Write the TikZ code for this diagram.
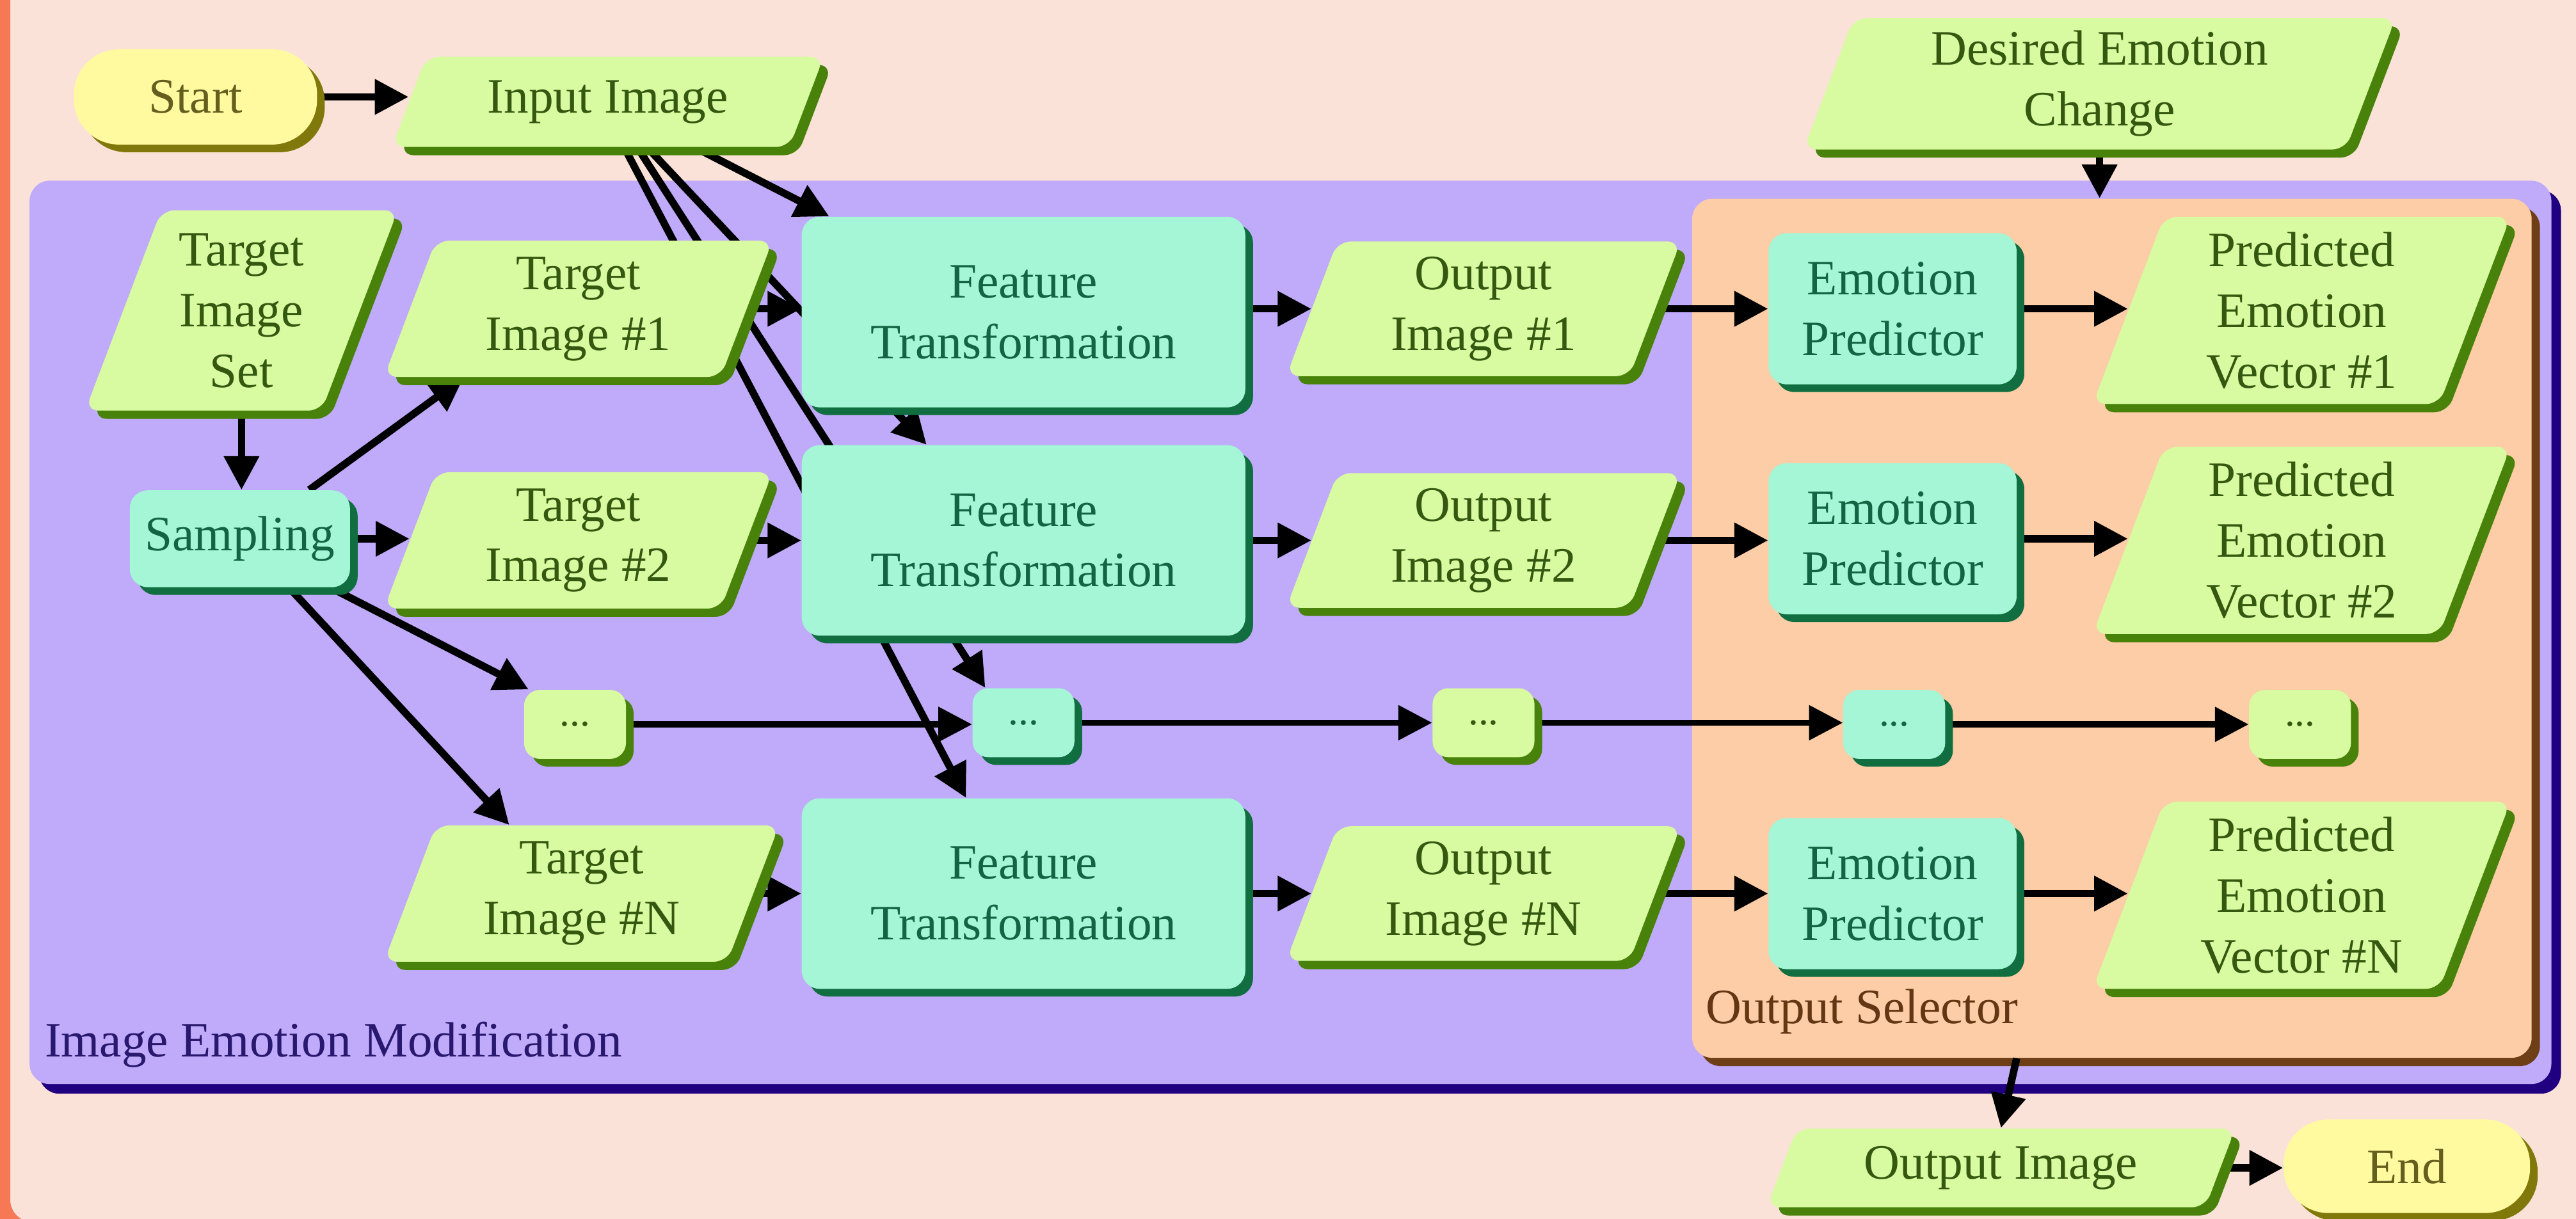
\documentclass[tikz,border=0pt]{standalone}
\usepackage{fontspec}
\setmainfont{Liberation Serif}
\usetikzlibrary{arrows.meta,shadows,calc}
\pgfdeclarelayer{bg}
\pgfdeclarelayer{edges}
\pgfsetlayers{bg,edges,main}
\definecolor{bgc}{RGB}{251,226,216}
\definecolor{frameor}{RGB}{246,120,84}
\definecolor{purp}{RGB}{192,170,250}
\definecolor{navy}{RGB}{32,0,128}
\definecolor{orng}{RGB}{252,205,166}
\definecolor{brwn}{RGB}{110,62,22}
\definecolor{gfill}{RGB}{216,250,160}
\definecolor{gshad}{RGB}{72,130,10}
\definecolor{gtxt}{RGB}{52,88,16}
\definecolor{cfill}{RGB}{164,246,214}
\definecolor{cshad}{RGB}{16,110,64}
\definecolor{ctxt}{RGB}{18,100,66}
\definecolor{yfill}{RGB}{255,250,160}
\definecolor{yshad}{RGB}{128,120,10}
\definecolor{ytxt}{RGB}{100,95,30}
\definecolor{iemtxt}{RGB}{40,25,110}
\definecolor{seltxt}{RGB}{100,55,20}
\newcommand\U{0.02567cm}
\newcommand\pnode[6]{%
  \pgfmathsetmacro\pHx{#4/2}%
  \pgfmathsetmacro\pHy{#5/2}%
  \pgfmathsetmacro\pSl{0.38*#5/2}%
  \fill[gshad, rounded corners=6pt] ({#2-\pHx-\pSl+5},{#3+\pHy+5}) -- ({#2-\pHx+\pSl+5},{#3-\pHy+5}) -- ({#2+\pHx+\pSl+5},{#3-\pHy+5}) -- ({#2+\pHx-\pSl+5},{#3+\pHy+5}) -- cycle;
  \fill[gfill, rounded corners=6pt] ({#2-\pHx-\pSl},{#3+\pHy}) -- ({#2-\pHx+\pSl},{#3-\pHy}) -- ({#2+\pHx+\pSl},{#3-\pHy}) -- ({#2+\pHx-\pSl},{#3+\pHy}) -- cycle;
  \node[gtext, minimum width=#4*\U, minimum height=#5*\U] (#1) at (#2,#3) {#6};
}
\tikzset{
  every node/.style={font=\fontsize{22}{27}\selectfont},
  gtext/.style={text=gtxt, align=center, inner sep=0pt},
  cbox/.style={fill=cfill, rounded corners=8pt, text=ctxt, align=center, inner sep=0pt,
    drop shadow={shadow xshift=0.12cm, shadow yshift=-0.12cm, fill=cshad, opacity=1}},
  gbox/.style={fill=gfill, rounded corners=7pt, text=gtxt, align=center, inner sep=0pt,
    font=\fontsize{18}{22}\selectfont,
    drop shadow={shadow xshift=0.12cm, shadow yshift=-0.12cm, fill=gshad, opacity=1}},
  dbox/.style={cbox, rounded corners=7pt, font=\fontsize{18}{22}\selectfont},
  ybox/.style={fill=yfill, rounded corners=20pt, text=ytxt, align=center, inner sep=0pt,
    drop shadow={shadow xshift=0.12cm, shadow yshift=-0.12cm, fill=yshad, opacity=1}},
  arr/.style={line width=3.3pt, -{Triangle[length=15pt,width=15pt]}},
  arrthin/.style={line width=2.7pt, -{Triangle[length=15pt,width=15pt]}},
}
\begin{document}
\begin{tikzpicture}[x=0.02567cm,y=-0.02567cm]
\useasboundingbox (0,0) rectangle (1568,742);
\begin{pgfonlayer}{bg}
  \fill[bgc] (0,0) rectangle (1568,742);
  \draw[frameor, line width=0.32cm, rounded corners=0.5cm] (0,-60) rectangle (1700,750);
  \node[fill=purp, rounded corners=9pt, minimum width=1535*\U, minimum height=550*\U,
    drop shadow={shadow xshift=0.15cm, shadow yshift=-0.15cm, fill=navy, opacity=1}] (iem) at (785.5,385) {};
  \node[anchor=west, text=iemtxt, inner sep=0pt] (iemlbl) at (27,636) {Image Emotion Modification};
  \node[fill=orng, rounded corners=9pt, minimum width=511*\U, minimum height=523*\U,
    drop shadow={shadow xshift=0.13cm, shadow yshift=-0.13cm, fill=brwn, opacity=1}] (sel) at (1285.5,382.5) {};
  \node[anchor=west, text=seltxt, inner sep=0pt] (sellbl) at (1038,616) {Output Selector};
\end{pgfonlayer}

% top row
\node[ybox, minimum width=148*\U, minimum height=58*\U] (start) at (119,59) {Start};
\pnode{inimg}{370}{62}{242}{55}{Input Image}
\pnode{des}{1278}{51}{330}{80}{Desired Emotion\\Change}

% left column
\pnode{tset}{147}{189}{144}{122}{Target\\Image\\Set}
\node[cbox, minimum width=134*\U, minimum height=59*\U] (samp) at (146,328) {Sampling};

% target images
\pnode{t1}{352}{188}{205}{83}{Target\\Image \#1}
\pnode{t2}{352}{329}{205}{83}{Target\\Image \#2}
\node[gbox, minimum width=62*\U, minimum height=42*\U] (d1) at (350,441) {...};
\pnode{tn}{354}{544}{209}{83}{Target\\Image \#N}

% feature transformation
\node[cbox, minimum width=270*\U, minimum height=116*\U] (ft1) at (623,190) {Feature\\Transformation};
\node[cbox, minimum width=270*\U, minimum height=116*\U] (ft2) at (623,329) {Feature\\Transformation};
\node[dbox, minimum width=62*\U, minimum height=42*\U] (d2) at (623,440) {...};
\node[cbox, minimum width=270*\U, minimum height=116*\U] (ftn) at (623,544) {Feature\\Transformation};

% output images
\pnode{o1}{903}{188}{209}{82}{Output\\Image \#1}
\pnode{o2}{903}{329}{209}{82}{Output\\Image \#2}
\node[gbox, minimum width=62*\U, minimum height=42*\U] (d3) at (903,440) {...};
\pnode{on}{903}{544}{209}{82}{Output\\Image \#N}

% emotion predictors
\node[cbox, minimum width=151*\U, minimum height=92*\U] (ep1) at (1152,188) {Emotion\\Predictor};
\node[cbox, minimum width=151*\U, minimum height=92*\U] (ep2) at (1152,328) {Emotion\\Predictor};
\node[dbox, minimum width=62*\U, minimum height=42*\U] (d4) at (1153,441) {...};
\node[cbox, minimum width=151*\U, minimum height=92*\U] (epn) at (1152,544) {Emotion\\Predictor};

% predicted vectors
\pnode{pv1}{1401}{189}{211}{114}{Predicted\\Emotion\\Vector \#1}
\pnode{pv2}{1401}{329}{211}{114}{Predicted\\Emotion\\Vector \#2}
\node[gbox, minimum width=62*\U, minimum height=42*\U] (d5) at (1400,441) {...};
\pnode{pvn}{1401}{545}{211}{114}{Predicted\\Emotion\\Vector \#N}

% bottom
\pnode{outimg}{1218}{711}{267}{48}{Output Image}
\node[ybox, minimum width=150*\U, minimum height=57*\U] (end) at (1465,710) {End};

\begin{pgfonlayer}{edges}
  \draw[arr] (start.east) -- (inimg.west |- start.east);
  \draw[arr] ($(inimg.south)+(53,0)$) -- ($(ft1.north west)+(17,0)$);
  \draw[arr] ($(inimg.south)+(24,0)$) -- ($(ft2.north)+(-59,0)$);
  \draw[arr] ($(inimg.south)+(18,0)$) -- ($(d2.north west)+(8,0)$);
  \draw[arr] ($(inimg.south)+(10,0)$) -- ($(ftn.north)+(-35,0)$);

  \draw[arr] (tset.south) -- (tset.south |- samp.north);
  \draw[arr] ($(samp.north east)+(-25,0)$) -- ($(t1.south west)+(33,0)$);
  \draw[arr] (samp.east) -- (samp.east -| t2.west);
  \draw[arr] ($(samp.south east)+(-12,0)$) -- ($(d1.north west)+(3,0)$);
  \draw[arr] ($(samp.south)+(30,0)$) -- ($(tn.north)+(-44,0)$);

  \draw[arr] (t1.east) -- (ft1.west |- t1.east);
  \draw[arr] (t2.east) -- (ft2.west |- t2.east);
  \draw[arr] (tn.east) -- (ftn.west |- tn.east);

  \draw[arr] (ft1.east |- o1.west) -- (o1.west);
  \draw[arr] (ft2.east |- o2.west) -- (o2.west);
  \draw[arr] (ftn.east |- on.west) -- (on.west);

  \draw[arr] (o1.east) -- (o1.east -| ep1.west);
  \draw[arr] (o2.east) -- (o2.east -| ep2.west);
  \draw[arr] (on.east) -- (on.east -| epn.west);

  \draw[arr] (ep1.east) -- (ep1.east -| pv1.west);
  \draw[arr] (ep2.east) -- (ep2.east -| pv2.west);
  \draw[arr] (epn.east) -- (epn.east -| pvn.west);

  \draw[arrthin] (d1.east) -- (d1.east -| d2.west);
  \draw[arrthin] (d2.east) -- (d2.east -| d3.west);
  \draw[arrthin] (d3.east) -- (d3.east -| d4.west);
  \draw[arrthin] (d4.east) -- (d4.east -| d5.west);

  \draw[arr] (des.south) -- (des.south |- sel.north);
  \draw[arr] ($(sel.south)+(-58,0)$) -- (outimg.north);
  \draw[arr] (outimg.east) -- (outimg.east -| end.west);
\end{pgfonlayer}
\end{tikzpicture}
\end{document}
